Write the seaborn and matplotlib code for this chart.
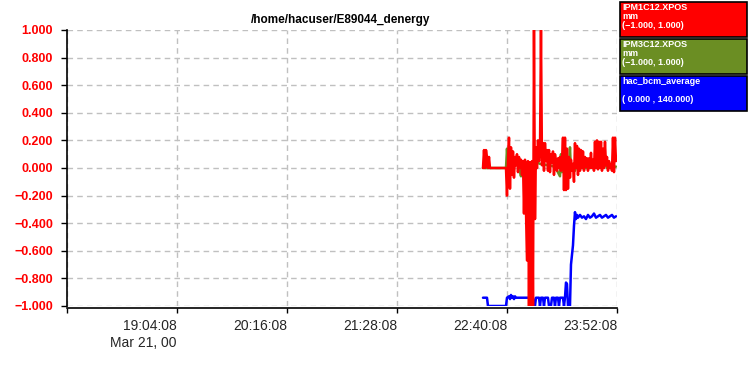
import matplotlib
matplotlib.use("Agg")
import matplotlib.pyplot as plt
from matplotlib.patches import Rectangle
import numpy as np
import pandas as pd
import seaborn as sns

# ---------------- data ----------------
title = "/home/hacuser/E89044_denergy"
date_label = "Mar 21, 00"
x_start = "2000-03-21 17:52:08"
x_end = "2000-03-21 23:52:08"
x_ticks = ["2000-03-21 17:52:08", "2000-03-21 19:04:08", "2000-03-21 20:16:08",
           "2000-03-21 21:28:08", "2000-03-21 22:40:08", "2000-03-21 23:52:08"]
y_ticks = [-1.0, -0.8, -0.6, -0.4, -0.2, 0.0, 0.2, 0.4, 0.6, 0.8, 1.0]

# logging clock shared by all channels
sample_start = "2000-03-21 22:24:25"
sample_seconds = 39.27

# IPM1C12.XPOS (one sample per clock tick)
red_values = [
    0.0, 0.13, 0.0, 0.13, 0.08, 0.0, 0.08, 0.0, 0.0, 0.0,
    0.0, 0.0, 0.0, 0.0, 0.0, 0.0, 0.0, 0.0, 0.0, 0.0,
    0.0, 0.0, 0.0, 0.0,
    -0.20, 0.05, 0.22, -0.15, 0.15, -0.05, 0.12, -0.07, 0.08, 0.02,
    0.10, -0.03, 0.08, 0.0, 0.06, -0.05,
    0.05, -0.33, 0.06, -0.30, -0.67, 0.05, -1.0, 0.04, -1.0, 0.05,
    -1.0, 1.0, -0.37, 0.15, 0.0, 0.20, 0.05, 0.12, 1.0, 0.02,
    0.18, -0.02, 0.18, 0.05, 0.13, -0.02, 0.13, -0.03, 0.10, 0.04,
    0.12, -0.05, 0.10, 0.05, -0.02, 0.07, 0.0, 0.08, -0.02, 0.05,
    0.22, -0.16, 0.22, -0.16, 0.14, -0.15, 0.08, -0.07, 0.06, -0.02,
    0.03, -0.10, 0.18, 0.0, 0.16, -0.05, 0.14, -0.02, 0.13, 0.0,
    0.12, -0.02, 0.08, 0.01, 0.07, -0.02, 0.07, 0.0, 0.11, 0.0,
    0.06, -0.02, 0.19, 0.0, 0.20, -0.01, 0.19, 0.0, 0.19, -0.02,
    0.14, 0.0, 0.19, 0.02, 0.08, -0.02, 0.05, 0.0, 0.03, -0.02,
    0.22, -0.03, 0.22, 0.05,
]

# IPM3C12.XPOS (sample index on the clock, value)
green_idx = [0, 23, 24, 25, 26, 32, 36, 37, 38, 39, 40, 52, 54, 57, 65, 72, 77, 78,
             79, 80, 86, 87, 88, 89, 92, 93, 97, 107, 117, 120, 123, 124, 133]
green_values = [0.0, 0.0, 0.14, 0.02, 0.03, 0.02, 0.03, -0.03, -0.06, 0.0, 0.02,
                0.02, 0.04, 0.03, 0.02, 0.01, -0.06, 0.10, -0.03, 0.02, 0.02, 0.15,
                -0.02, 0.01, -0.02, 0.01, 0.0, 0.0, 0.01, 0.03, 0.02, 0.0, 0.01]

# hac_bcm_average (normalised to the plot scale)
blue_idx = [0, 4, 5, 23, 24, 26, 27, 28, 29, 30, 31, 32, 33, 50, 51, 52, 53, 56, 57,
            58, 60, 61, 62, 65, 66, 68, 69, 71, 72, 73, 75, 76, 77, 80, 81, 82, 83,
            84, 85, 87, 88, 89, 90, 91, 92, 93, 94, 95, 97, 99, 101, 103, 105, 107,
            109, 111, 113, 115, 117, 119, 121, 123, 125, 127, 129, 131, 133]
blue_values = [-0.94, -0.94, -1.0, -1.0, -0.94, -0.93, -0.95, -0.92, -0.94, -0.93,
               -0.95, -0.93, -0.94, -0.94, -1.0, -1.0, -0.94, -0.94, -1.0, -0.94,
               -0.94, -1.0, -0.94, -0.94, -1.0, -1.0, -0.94, -0.94, -1.0, -0.94,
               -0.94, -1.0, -0.94, -0.94, -1.0, -0.94, -0.83, -0.84, -1.0, -1.0,
               -0.70, -0.63, -0.56, -0.42, -0.32, -0.37, -0.34, -0.36, -0.34, -0.36,
               -0.35, -0.37, -0.34, -0.36, -0.35, -0.33, -0.36, -0.35, -0.34, -0.36,
               -0.35, -0.34, -0.36, -0.35, -0.34, -0.36, -0.35]

legend_names = ["IPM1C12.XPOS", "IPM3C12.XPOS", "hac_bcm_average"]
legend_units = ["mm", "mm", ""]
legend_ranges = ["(\u22121.000, 1.000)", "(\u22121.000, 1.000)", "( 0.000 , 140.000)"]
colors = ["#ff0000", "#6b8e23", "#0000ff"]

# ---------------- build frames ----------------
t0 = pd.Timestamp(sample_start)
step = pd.Timedelta(seconds=sample_seconds)
red_df = pd.DataFrame({"time": [t0 + i * step for i in range(len(red_values))],
                       "value": red_values})
green_df = pd.DataFrame({"time": [t0 + i * step for i in green_idx], "value": green_values})
blue_df = pd.DataFrame({"time": [t0 + i * step for i in blue_idx], "value": blue_values})

# ---------------- plot ----------------
sns.set_style("white")
plt.rcParams["font.family"] = ["Liberation Sans", "DejaVu Sans"]
plt.rcParams["axes.unicode_minus"] = True

W, H = 748, 375
fig = plt.figure(figsize=(W / 100, H / 100), dpi=100)
ax = fig.add_axes([67 / W, 1 - 306 / H, (617 - 67) / W, (306 - 30) / H])

lw = 1.8
sns.lineplot(data=blue_df, x="time", y="value", color=colors[2], lw=lw, ax=ax,
             estimator=None, sort=False, legend=False)
sns.lineplot(data=green_df, x="time", y="value", color=colors[1], lw=lw, ax=ax,
             estimator=None, sort=False, legend=False)
sns.lineplot(data=red_df, x="time", y="value", color=colors[0], lw=lw, ax=ax,
             estimator=None, sort=False, legend=False)

ax.set_xlim(pd.Timestamp(x_start), pd.Timestamp(x_end))
ax.set_ylim(-1.0, 1.0)
ax.set_xlabel("")
ax.set_ylabel("")

ax.tick_params(axis="y", direction="out", length=4, width=1, color="black", pad=6, left=True)
ax.tick_params(axis="x", direction="out", length=3.5, width=1, color="black", pad=4, bottom=True)

tick_ts = [pd.Timestamp(t) for t in x_ticks]
ax.set_xticks(tick_ts)
labels = []
for i, t in enumerate(tick_ts):
    if i == 0:
        labels.append("")
    elif i == 1:
        labels.append(t.strftime("%H:%M:%S") + "\n" + date_label)
    else:
        labels.append(t.strftime("%H:%M:%S"))
ax.set_xticklabels(labels, fontsize=9, fontweight="bold", color="black")

ax.set_yticks(y_ticks)
ax.set_yticklabels([f"{v:.3f}".replace("-", "\u2212") for v in y_ticks],
                   fontsize=9, fontweight="bold", color="#ff0000")

ax.grid(True, color="#c0c0c0", linestyle=(0, (4, 3)), linewidth=1)
ax.set_axisbelow(True)

for s in ["top", "right"]:
    ax.spines[s].set_visible(False)
ax.spines["left"].set_color("black")
ax.spines["left"].set_linewidth(1.2)
ax.spines["bottom"].set_color("black")
ax.spines["bottom"].set_linewidth(1.2)
ax.spines["bottom"].set_position(("outward", 1.5))

fig.text(341 / W, 1 - 23.5 / H, title, ha="center", va="baseline",
         fontsize=8.5, fontweight="bold", color="black")

# legend boxes
tops = [2, 39, 76]
bots = [37, 74, 111]
for name, unit, rng, col, top, bot in zip(legend_names, legend_units, legend_ranges,
                                          colors, tops, bots):
    fig.patches.append(Rectangle((620 / W, 1 - bot / H), 127 / W, (bot - top) / H,
                                 transform=fig.transFigure, facecolor=col,
                                 edgecolor="black", linewidth=1.2))
    for off, txt in zip([8.0, 17.0, 26.0], [name, unit, rng]):
        if txt:
            fig.text(622 / W, 1 - (top + off) / H, txt, ha="left", va="baseline",
                     fontsize=6.5, fontweight="bold", color="white")

# right-align the time labels on their ticks (done last so nothing resets it)
fig.canvas.draw()
for lbl in ax.get_xticklabels():
    lbl.set_horizontalalignment("right")
    lbl.set_multialignment("right")
    lbl.set_linespacing(1.3)

fig.savefig("out.png", dpi=100, facecolor="white")
